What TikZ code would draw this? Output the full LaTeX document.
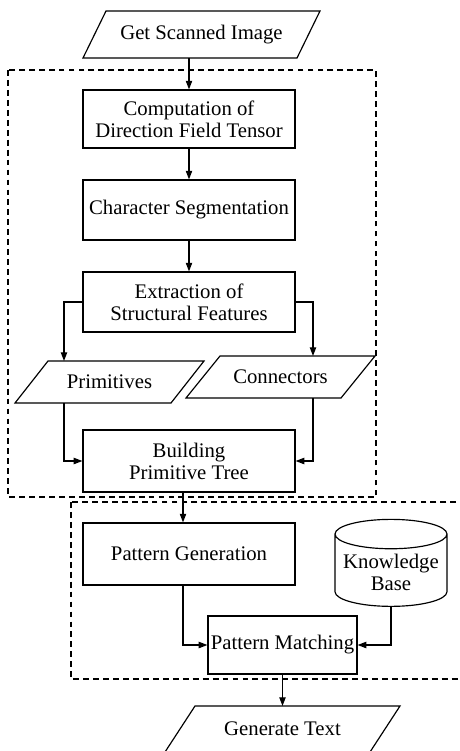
\documentclass[tikz,border=0pt]{standalone}
\usepackage{fontspec}
\setmainfont{Liberation Serif}
\usetikzlibrary{shapes.geometric, arrows.meta, positioning}

\tikzset{
  procbox/.style={draw, line width=1pt, minimum width=6.36cm, minimum height=1.8cm, align=center, inner sep=1pt},
  iobox/.style={outer sep=0pt, minimum width=5.67cm, minimum height=1.26cm, inner sep=1pt},
  kbase/.style={draw, line width=1pt, cylinder, shape border rotate=90, aspect=0.3, minimum width=3.36cm, minimum height=2.61cm, align=center, inner sep=1pt},
  dbox/.style={line width=1pt, dash pattern=on 5pt off 3.5pt},
  arr/.style={line width=1pt, -{Triangle[length=2.6mm, width=1.9mm]}}
}

% slanted outline round a named iobox node
\newcommand{\ioframe}[2]{\draw[line width=1pt] ([xshift=#2]#1.north west) -- (#1.north east) -- ([xshift=-#2]#1.south east) -- (#1.south west) -- cycle;}

\begin{document}
\begin{tikzpicture}[font=\fontsize{17.7}{18.8}\selectfont]

% Fix the page size
\clip (0,0) rectangle (13.8,-22.53);

% Draw the two dashed frames
\draw[dbox] (0.24,-2.1) rectangle (11.28,-14.91);
\draw[dbox] (2.13,-15.06) rectangle (14.1,-20.37);

% Add the steps
\node[iobox, minimum width=7.11cm, minimum height=1.41cm] (gs) at (6.045,-1.035) {Get Scanned Image};
\node[procbox, minimum height=1.74cm] (comp) at (5.67,-3.57) {Computation of\\Direction Field Tensor};
\node[procbox] (seg) at (5.67,-6.3) {Character Segmentation};
\node[procbox] (extr) at (5.67,-9.06) {Extraction of\\Structural Features};
\node[iobox] (prim) at (3.285,-11.46) {Primitives};
\node[iobox] (conn) at (8.415,-11.31) {Connectors};
\node[procbox, minimum height=1.86cm] (build) at (5.67,-13.83) {Building\\Primitive Tree};
\node[procbox, minimum height=1.86cm] (patgen) at (5.67,-16.62) {Pattern Generation};
\node[kbase] (kb) at (11.73,-17.16) {Knowledge\\Base};
\node[procbox, minimum width=4.47cm, minimum height=1.74cm] (pm) at (8.475,-19.35) {Pattern Matching};
\node[iobox, minimum width=7.05cm, minimum height=1.38cm] (gt) at (8.475,-21.87) {Generate Text};

% Slanted outlines
\ioframe{gs}{0.69cm}
\ioframe{prim}{0.99cm}
\ioframe{conn}{1.02cm}
\ioframe{gt}{0.9cm}

% Connect them
\draw[arr] (gs.south -| comp.north) -- (comp.north);
\draw[arr] (comp) -- (seg);
\draw[arr] (seg) -- (extr);
\draw[arr] (extr.west) -| ([xshift=-1.365cm]prim.north);
\draw[arr] (extr.east) -| ([xshift=0.975cm]conn.north);
\draw[arr] ([xshift=-1.365cm]prim.south) |- (build.west);
\draw[arr] ([xshift=0.975cm]conn.south) |- (build.east);
\draw[arr] ([xshift=-0.18cm]build.south) -- ([xshift=-0.18cm]patgen.north);
\draw[arr] ([xshift=-0.18cm]patgen.south) |- (pm.west);
\draw[arr] (kb.south) |- (pm.east);
\draw[arr] (pm.south) -- (pm.south |- gt.north);

\end{tikzpicture}
\end{document}
